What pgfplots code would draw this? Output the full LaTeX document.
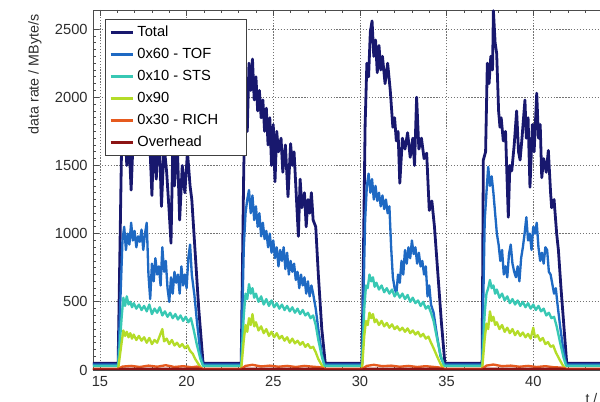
\documentclass[border=0pt]{standalone}
\usepackage{pgfplots}
\pgfplotsset{compat=1.18}
\usepackage{fontspec}
\setmainfont{Liberation Sans}
\definecolor{cTotal}{RGB}{24,24,110}
\definecolor{cTOF}{RGB}{30,105,195}
\definecolor{cSTS}{RGB}{56,200,180}
\definecolor{c90}{RGB}{180,220,40}
\definecolor{cRICH}{RGB}{230,90,30}
\definecolor{cOver}{RGB}{140,20,20}
\definecolor{cText}{RGB}{45,45,45}
\newcommand{\legentry}[1]{\makebox[77pt][l]{#1}}
\begin{document}
\begin{tikzpicture}
\useasboundingbox (-69.75pt,-24pt) rectangle (380.25pt,277.5pt);
\begin{axis}[
  at={(0,0)}, anchor=south west,
  scale only axis, width=390pt, height=270pt,
  xmin=14.6, xmax=44.6, ymin=0, ymax=2640,
  xtick={15,20,25,30,35,40,45}, ytick={0,500,1000,1500,2000,2500},
  minor x tick num=4, minor y tick num=9,
  tick align=inside,
  major tick length=4.5pt, minor tick length=2.2pt,
  every tick/.style={black!70, line width=0.5pt},
  axis line style={black!70, line width=0.6pt},
  grid=major,
  major grid style={black!55, line width=0.5pt, dash pattern=on 1pt off 1.2pt},
  /pgf/number format/assume math mode=true,
  /pgf/number format/1000 sep={},
  scaled y ticks=false,
  tick label style={font=\fontsize{11}{13}\selectfont, text=cText},
  xticklabel style={yshift=-1pt},
  yticklabel style={xshift=-0.5pt},
  xlabel={t / s},
  xlabel style={at={(rel axis cs:1,0)}, anchor=north east, yshift=-14pt, font=\fontsize{10.5}{12}\selectfont, text=cText},
  ylabel={data rate / MByte/s},
  ylabel style={at={(axis description cs:-0.09,1)}, anchor=south east, font=\fontsize{10.7}{12}\selectfont, text=cText},
  legend cell align=left,
  legend style={at={(axis description cs:0.023,0.975)}, anchor=north west,
    draw=black!75, line width=0.6pt, fill=white, font=\fontsize{11}{13}\selectfont,
    row sep=3.3pt, inner xsep=3pt, inner ysep=3pt},
  legend image code/.code={\draw[#1, line width=2pt] (0cm,0cm) -- (0.6cm,0cm);},
  every axis plot/.append style={line width=1.75pt, line join=round},
]
% Total
\addplot[cTotal, line width=2.1pt] coordinates {
(14.6,50)(16.05,50)(16.25,1650)(16.4,1900)(16.55,1500)(16.65,1750)(16.8,1320)(16.95,1800)(17.1,1650)(17.25,1900)(17.4,1700)(17.55,1850)(17.7,1600)(17.85,1750)(18.0,1280)(18.1,1700)(18.25,1400)(18.4,1800)(18.55,1200)(18.7,1650)(18.85,1450)(19.0,1150)(19.1,930)(19.2,1600)(19.3,1350)(19.45,1700)(19.6,1100)(19.75,1500)(19.9,1300)(20.05,1600)(20.2,1350)(20.3,1250)(20.5,850)(20.7,450)(20.95,50)
(23.15,50)(23.3,1500)(23.4,1900)(23.5,1750)(23.6,2250)(23.7,2050)(23.8,2280)(23.9,1980)(24.0,2150)(24.1,1900)(24.2,2050)(24.3,1850)(24.4,1980)(24.5,1750)(24.6,1920)(24.7,1650)(24.8,1850)(24.9,1500)(25.0,1800)(25.1,1380)(25.2,1750)(25.3,1600)(25.45,1700)(25.55,1450)(25.7,1650)(25.85,1270)(26.0,1660)(26.1,1500)(26.2,1600)(26.3,1350)(26.45,980)(26.55,1400)(26.65,1190)(26.8,1300)(26.9,1050)(27.0,1250)(27.1,1150)(27.2,1300)(27.3,1100)(27.45,1050)(27.6,700)(27.8,300)(28.0,50)
(30.12,50)(30.3,1800)(30.4,2250)(30.5,2150)(30.6,2480)(30.7,2560)(30.8,2300)(30.9,2420)(31.0,2180)(31.1,2380)(31.2,2200)(31.3,2300)(31.45,2100)(31.6,2250)(31.75,2050)(31.9,1780)(32.0,1850)(32.1,1680)(32.2,1750)(32.3,1370)(32.45,1700)(32.6,1620)(32.75,1740)(32.9,1560)(33.05,1700)(33.15,1500)(33.27,2000)(33.4,1620)(33.55,1700)(33.7,1550)(33.85,1590)(34.0,1170)(34.15,1240)(34.3,1050)(34.5,700)(34.7,350)(34.9,50)
(37.05,50)(37.12,1540)(37.25,1600)(37.35,2250)(37.45,2100)(37.55,2300)(37.65,2200)(37.7,2635)(37.8,2400)(37.89,2320)(38.0,1900)(38.08,1780)(38.15,1850)(38.27,1680)(38.4,1750)(38.56,1120)(38.65,1500)(38.76,1460)(38.9,1650)(39.04,1900)(39.15,1600)(39.24,1540)(39.35,1700)(39.52,1980)(39.6,1700)(39.7,1850)(39.81,1340)(39.95,1800)(40.05,1600)(40.2,2030)(40.3,1700)(40.4,1800)(40.49,1410)(40.6,1550)(40.75,1450)(40.87,1610)(41.0,1300)(41.06,1190)(41.2,1250)(41.35,1000)(41.45,880)(41.6,600)(41.75,350)(41.93,50)(44.6,50)
};
\addlegendentry{\legentry{Total}}
% 0x60 - TOF
\addplot[cTOF] coordinates {
(14.6,40)(16.05,40)(16.3,950)(16.4,1050)(16.5,880)(16.6,1000)(16.7,920)(16.8,1080)(16.9,950)(17.0,1020)(17.1,900)(17.2,980)(17.3,940)(17.4,1030)(17.5,880)(17.6,1000)(17.7,1080)(17.8,700)(17.9,520)(18.0,780)(18.1,650)(18.2,820)(18.3,700)(18.4,760)(18.5,620)(18.6,900)(18.7,720)(18.8,800)(18.9,600)(19.0,500)(19.1,680)(19.2,560)(19.3,720)(19.4,640)(19.5,700)(19.6,560)(19.7,760)(19.8,620)(19.9,700)(20.0,600)(20.1,820)(20.2,920)(20.3,700)(20.45,550)(20.6,350)(20.8,120)(20.95,40)
(23.15,40)(23.3,900)(23.4,1150)(23.5,1250)(23.6,1320)(23.7,1150)(23.8,1280)(23.9,1100)(24.0,1200)(24.1,1050)(24.2,1150)(24.3,980)(24.4,1080)(24.5,960)(24.6,1020)(24.7,900)(24.8,1000)(24.9,860)(25.0,950)(25.1,820)(25.2,900)(25.3,760)(25.4,880)(25.5,800)(25.6,900)(25.7,740)(25.8,860)(25.9,700)(26.0,800)(26.1,720)(26.2,780)(26.3,660)(26.4,720)(26.5,600)(26.6,700)(26.7,620)(26.8,680)(26.9,560)(27.0,650)(27.1,540)(27.2,620)(27.3,560)(27.45,450)(27.6,300)(27.8,120)(27.95,40)
(30.12,40)(30.3,1100)(30.4,1350)(30.5,1440)(30.6,1300)(30.7,1400)(30.8,1250)(30.9,1350)(31.0,1240)(31.1,1300)(31.2,1200)(31.3,1280)(31.4,1180)(31.5,1250)(31.6,1150)(31.7,1200)(31.8,900)(31.9,680)(32.0,600)(32.1,560)(32.2,700)(32.3,640)(32.4,800)(32.5,700)(32.6,880)(32.7,780)(32.8,900)(32.9,820)(33.0,950)(33.1,850)(33.2,900)(33.3,780)(33.4,860)(33.5,760)(33.6,800)(33.7,700)(33.8,760)(33.9,540)(34.0,620)(34.1,480)(34.25,420)(34.45,250)(34.65,100)(34.85,40)
(37.05,40)(37.2,1100)(37.3,1300)(37.4,1490)(37.5,1350)(37.6,1420)(37.7,1300)(37.8,1150)(37.9,1000)(38.0,920)(38.1,800)(38.2,880)(38.3,700)(38.4,760)(38.5,680)(38.6,850)(38.7,920)(38.8,780)(38.9,720)(39.0,680)(39.1,760)(39.2,650)(39.3,820)(39.4,900)(39.5,1000)(39.6,1120)(39.7,950)(39.8,1000)(39.9,880)(40.0,1050)(40.1,1000)(40.2,1080)(40.3,900)(40.4,800)(40.5,860)(40.6,780)(40.7,900)(40.8,880)(40.9,720)(41.0,700)(41.1,630)(41.2,560)(41.3,600)(41.4,480)(41.55,320)(41.7,180)(41.9,40)(44.6,40)
};
\addlegendentry{\legentry{0x60 - TOF}}
% 0x10 - STS
\addplot[cSTS] coordinates {
(14.6,30)(16.05,30)(16.25,380)(16.35,530)(16.45,470)(16.55,540)(16.65,480)(16.75,500)(16.85,460)(16.95,490)(17.1,450)(17.25,480)(17.4,440)(17.55,470)(17.7,430)(17.85,480)(18.0,410)(18.15,450)(18.3,420)(18.45,460)(18.6,400)(18.75,430)(18.9,390)(19.05,420)(19.2,380)(19.35,410)(19.5,370)(19.65,400)(19.8,360)(19.95,390)(20.1,350)(20.25,380)(20.4,300)(20.6,180)(20.8,80)(20.95,30)
(23.15,30)(23.3,400)(23.4,560)(23.5,520)(23.6,630)(23.7,560)(23.8,600)(23.9,530)(24.0,560)(24.15,500)(24.3,540)(24.45,480)(24.6,520)(24.75,470)(24.9,510)(25.05,460)(25.2,490)(25.35,450)(25.5,480)(25.65,440)(25.8,470)(25.95,430)(26.1,460)(26.25,420)(26.4,450)(26.55,410)(26.7,440)(26.85,400)(27.0,420)(27.15,380)(27.3,400)(27.45,330)(27.6,220)(27.8,100)(27.95,30)
(30.12,30)(30.25,450)(30.35,620)(30.45,600)(30.55,700)(30.65,650)(30.75,680)(30.85,610)(30.95,640)(31.1,590)(31.25,620)(31.4,570)(31.55,600)(31.7,560)(31.85,590)(32.0,540)(32.15,570)(32.3,530)(32.45,560)(32.6,520)(32.75,550)(32.9,500)(33.05,530)(33.2,490)(33.35,510)(33.5,470)(33.65,500)(33.8,450)(33.95,470)(34.1,420)(34.25,360)(34.45,230)(34.65,110)(34.85,30)
(37.05,30)(37.2,420)(37.3,560)(37.4,600)(37.5,660)(37.6,600)(37.7,620)(37.8,560)(37.9,590)(38.05,530)(38.2,560)(38.35,510)(38.5,540)(38.65,490)(38.8,520)(38.95,480)(39.1,510)(39.25,470)(39.4,500)(39.55,460)(39.7,490)(39.85,450)(40.0,480)(40.15,440)(40.3,470)(40.45,430)(40.6,450)(40.75,400)(40.9,420)(41.05,380)(41.2,390)(41.35,320)(41.55,200)(41.75,90)(41.9,30)(44.6,30)
};
\addlegendentry{\legentry{0x10 - STS}}
% 0x90
\addplot[c90] coordinates {
(14.6,5)(16.05,5)(16.25,200)(16.35,290)(16.45,250)(16.55,280)(16.65,240)(16.75,270)(16.85,230)(16.95,260)(17.1,220)(17.25,250)(17.4,215)(17.55,240)(17.7,200)(17.85,235)(18.0,190)(18.15,220)(18.3,200)(18.45,250)(18.6,300)(18.7,210)(18.85,230)(19.0,190)(19.15,220)(19.3,180)(19.45,200)(19.6,170)(19.75,190)(19.9,160)(20.05,180)(20.2,140)(20.35,120)(20.5,80)(20.7,40)(20.9,5)
(23.15,5)(23.3,220)(23.4,330)(23.5,280)(23.6,380)(23.7,330)(23.8,410)(23.9,320)(24.0,350)(24.15,290)(24.3,320)(24.45,270)(24.6,300)(24.75,250)(24.9,280)(25.05,240)(25.2,270)(25.35,230)(25.5,250)(25.65,215)(25.8,240)(25.95,200)(26.1,230)(26.25,195)(26.4,215)(26.55,185)(26.7,205)(26.85,170)(27.0,190)(27.15,160)(27.3,170)(27.45,130)(27.6,80)(27.8,35)(27.95,5)
(30.12,5)(30.25,250)(30.35,360)(30.45,330)(30.55,420)(30.65,380)(30.75,410)(30.85,350)(30.95,370)(31.1,330)(31.25,360)(31.4,320)(31.55,345)(31.7,310)(31.85,335)(32.0,300)(32.15,320)(32.3,290)(32.45,310)(32.6,280)(32.75,305)(32.9,270)(33.05,290)(33.2,260)(33.35,280)(33.5,245)(33.65,265)(33.8,230)(33.95,245)(34.1,200)(34.25,160)(34.45,100)(34.65,45)(34.85,5)
(37.05,5)(37.2,230)(37.3,340)(37.4,300)(37.5,430)(37.6,360)(37.7,390)(37.8,330)(37.9,350)(38.05,300)(38.2,330)(38.35,280)(38.5,310)(38.65,270)(38.8,300)(38.95,255)(39.1,285)(39.25,250)(39.4,275)(39.55,240)(39.7,265)(39.85,230)(40.0,310)(40.1,240)(40.25,255)(40.4,215)(40.55,235)(40.7,190)(40.85,205)(41.0,170)(41.15,180)(41.3,130)(41.5,80)(41.7,35)(41.9,5)(44.6,5)
};
\addlegendentry{\legentry{0x90}}
% 0x30 - RICH
\addplot[cRICH] coordinates {
(14.6,8)(16.05,8)(16.3,25)(16.8,30)(17.3,22)(17.8,32)(18.3,24)(18.8,35)(19.3,22)(19.8,28)(20.3,20)(20.6,25)(20.95,8)(23.15,8)(23.4,30)(23.8,38)(24.3,26)(24.8,32)(25.3,24)(25.8,30)(26.3,22)(26.8,30)(27.3,24)(27.7,20)(28.0,8)(30.12,8)(30.4,30)(30.8,38)(31.3,28)(31.8,32)(32.3,24)(32.8,30)(33.3,22)(33.8,28)(34.3,22)(34.6,18)(34.9,8)(37.05,8)(37.3,32)(37.7,40)(38.2,28)(38.7,32)(39.2,24)(39.7,30)(40.2,22)(40.7,28)(41.2,20)(41.6,18)(41.95,8)(44.6,8)
};
\addlegendentry{\legentry{0x30 - RICH}}
% Overhead
\addplot[cOver] coordinates {
(14.6,3)(16.05,3)(16.3,8)(20.7,8)(20.95,3)(23.15,3)(23.4,9)(27.7,8)(28.0,3)(30.12,3)(30.4,9)(34.6,8)(34.9,3)(37.05,3)(37.3,9)(41.6,8)(41.95,3)(44.6,3)
};
\addlegendentry{\legentry{Overhead}}
\end{axis}
\end{tikzpicture}
\end{document}
